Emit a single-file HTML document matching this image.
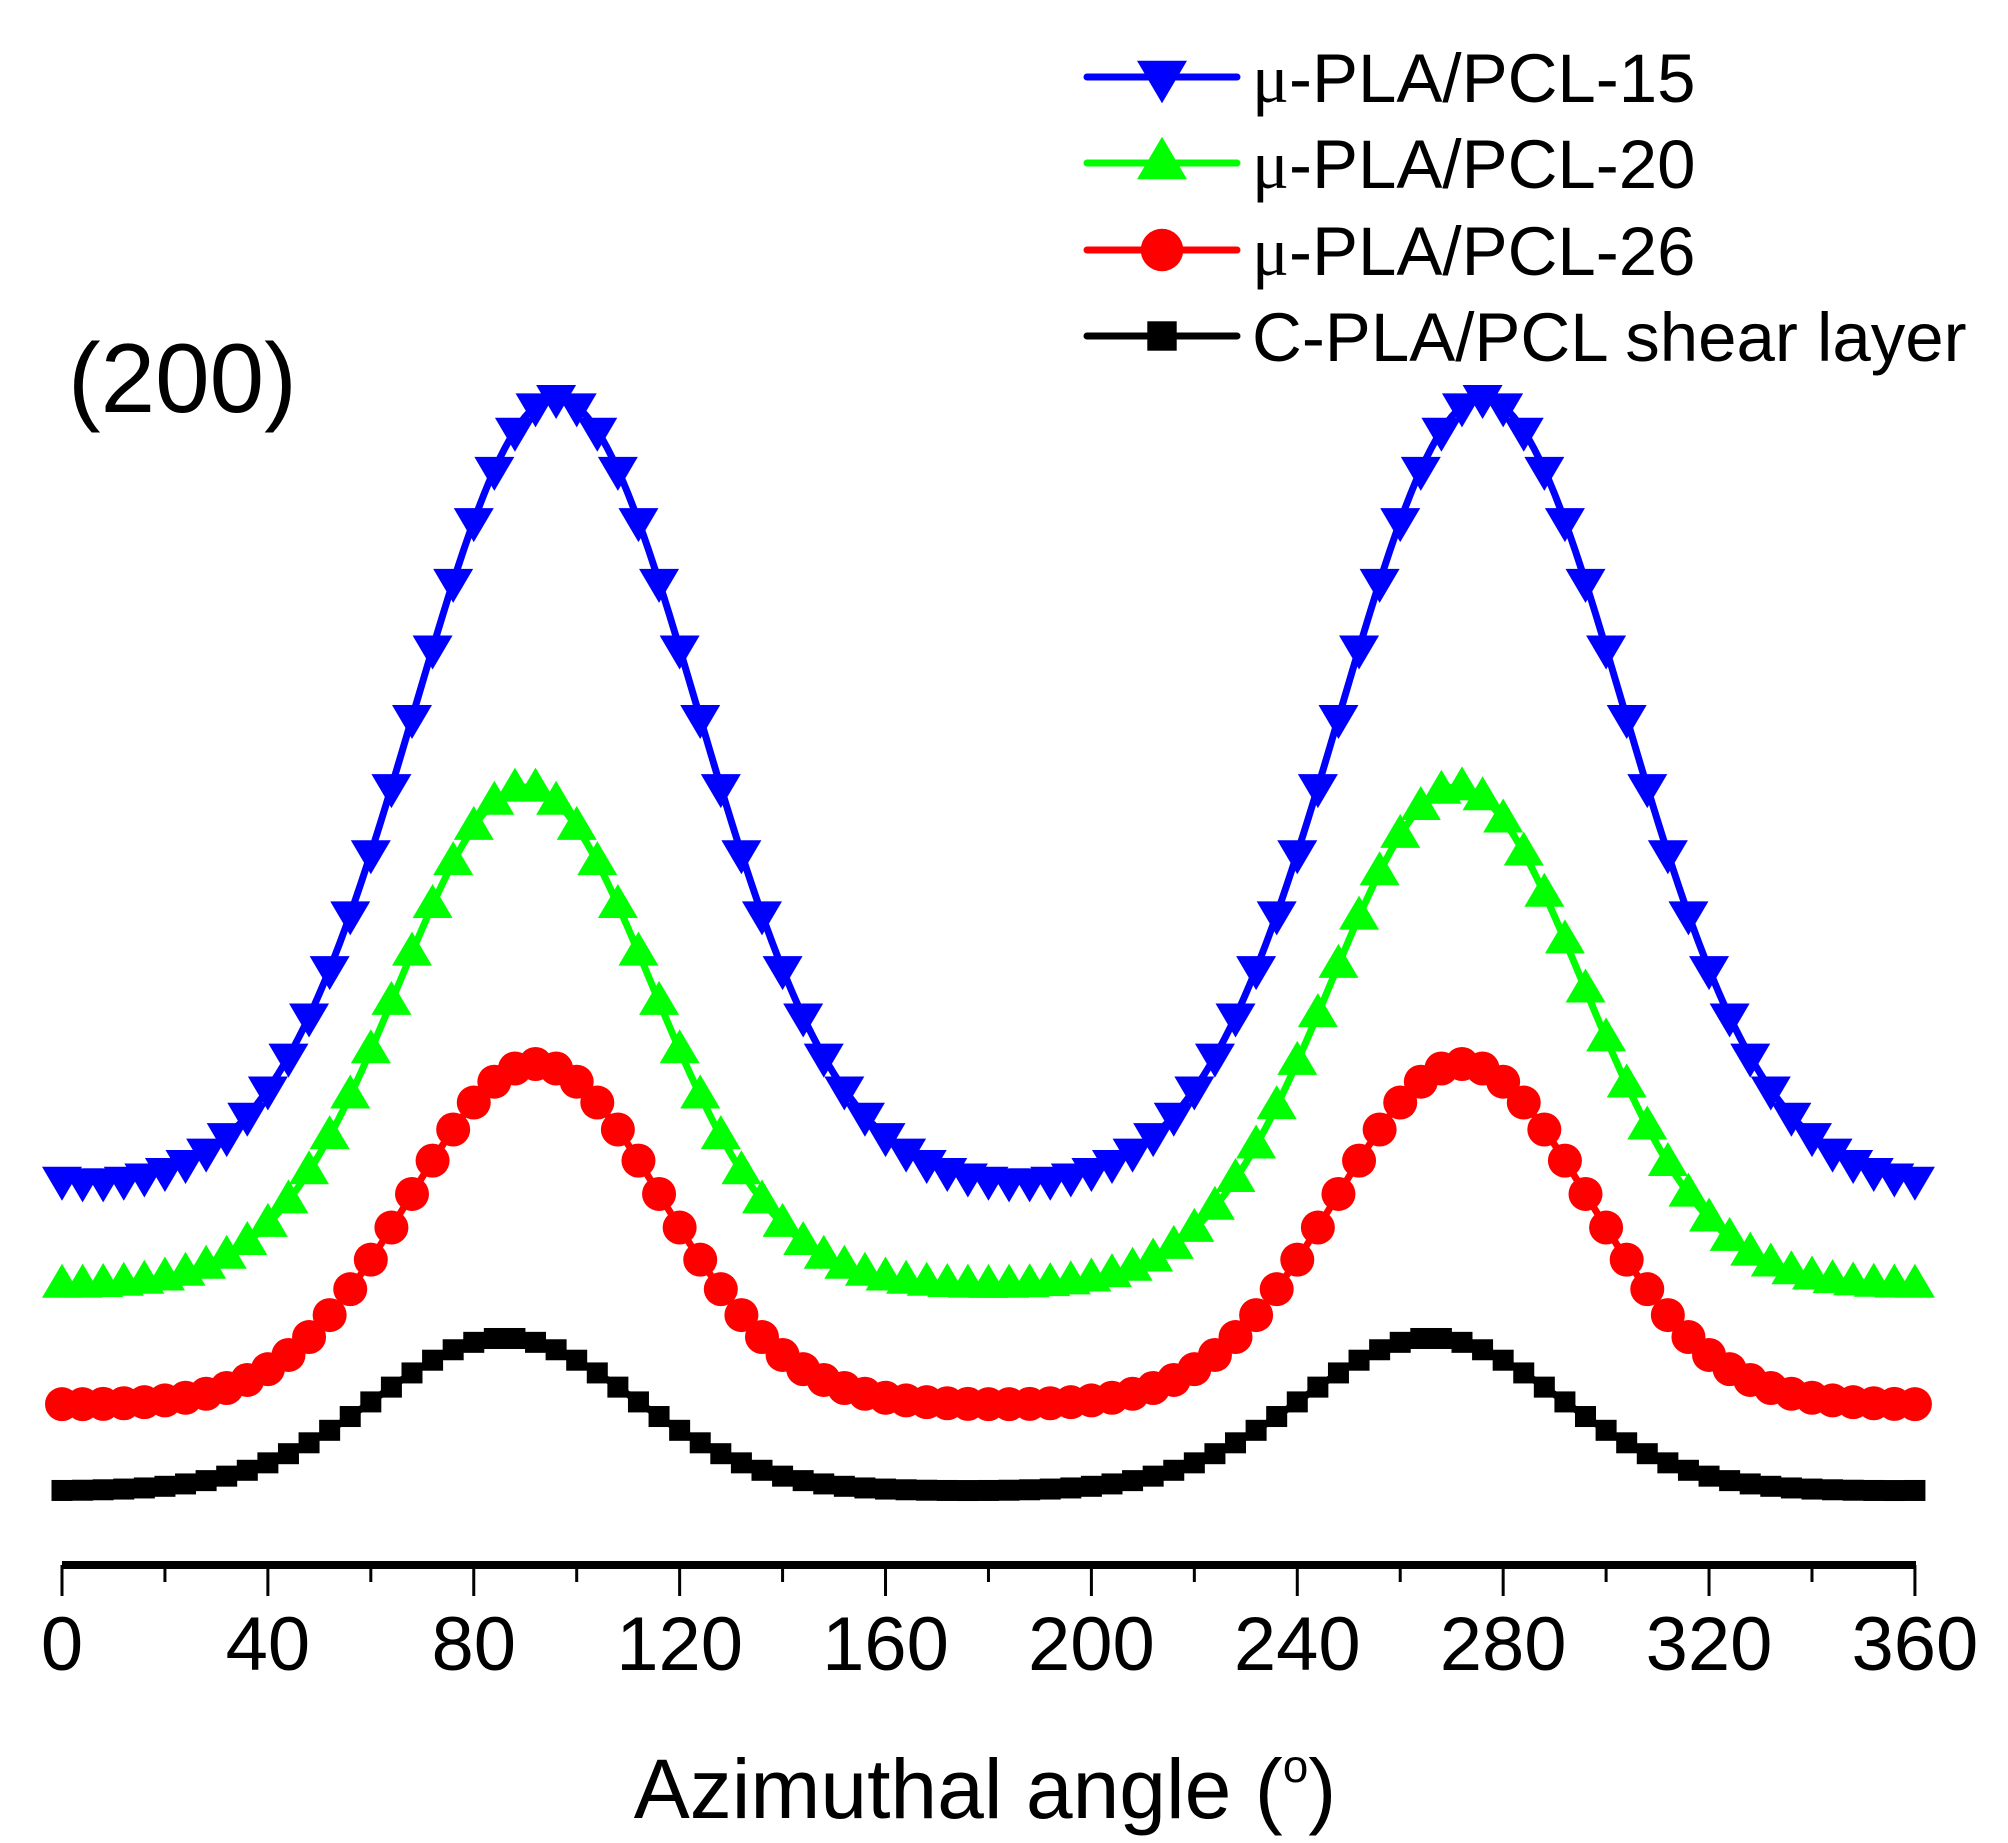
<!DOCTYPE html>
<html><head><meta charset="utf-8"><style>
body{margin:0;background:#fff}
svg{display:block}
text{font-family:"Liberation Sans",sans-serif}
</style></head><body>
<svg id="s" width="2008" height="1843" viewBox="0 0 2008 1843" xmlns="http://www.w3.org/2000/svg">
<g id="d"></g>
<line x1="62" y1="1565" x2="1916" y2="1565" stroke="#000" stroke-width="8"/>
<g id="t" stroke="#000" stroke-width="3"></g>
<g font-size="76" text-anchor="middle" id="tl"></g>
<text x="985" y="1818" font-size="84" text-anchor="middle">Azimuthal angle (<tspan font-size="46" dy="-36">o</tspan><tspan dy="36">)</tspan></text>
<text x="68" y="412" font-size="98">(200)</text>
<g id="lg"></g>
<g font-size="69">
<text x="1252" y="102"><tspan font-family="Liberation Serif">μ</tspan>-PLA/PCL-15</text>
<text x="1252" y="188"><tspan font-family="Liberation Serif">μ</tspan>-PLA/PCL-20</text>
<text x="1252" y="275"><tspan font-family="Liberation Serif">μ</tspan>-PLA/PCL-26</text>
<text x="1252" y="361">C-PLA/PCL shear layer</text>
</g>
</svg>
<script>
var NS="http://www.w3.org/2000/svg";
function el(t,a,p){var e=document.createElementNS(NS,t);for(var k in a)e.setAttribute(k,a[k]);p.appendChild(e);return e;}
var X=function(a){return 62+a*5.147;};
var t=document.getElementById('t'),tl=document.getElementById('tl');
for(var a=0;a<=360;a+=20){var maj=a%40==0;el('line',{x1:X(a),y1:1565,x2:X(a),y2:maj?1596:1582},t);
if(maj){var tx=el('text',{x:X(a),y:1670},tl);tx.textContent=a;}}
var series=[
 {c:'#0000ff',base:1189,A:791,p:[96,276],s:27.5,m:'dn'},
 {c:'#00ff00',base:1286,A:499,p:[90,271],s:24.5,m:'up'},
 {c:'#ff0000',base:1405,A:341,p:[92,272],s:24.5,m:'ci'},
 {c:'#000000',base:1491,A:153,p:[86,266],s:25,m:'sq'}];
var d=document.getElementById('d');
function marker(m,x,y,c,g){
 if(m=='dn')el('polygon',{points:(x-20)+','+(y-13)+' '+(x+20)+','+(y-13)+' '+x+','+(y+21),fill:c},g);
 else if(m=='up')el('polygon',{points:(x-20)+','+(y+13)+' '+(x+20)+','+(y+13)+' '+x+','+(y-21),fill:c},g);
 else if(m=='ci')el('circle',{cx:x,cy:y,r:17,fill:c},g);
 else el('rect',{x:x-10.5,y:y-10.5,width:21,height:21,fill:c},g);
}
series.forEach(function(S){
 function f(a){var v=0;S.p.forEach(function(p){for(var k=-1;k<=1;k++){var dd=a-p-360*k;v+=Math.exp(-dd*dd/(2*S.s*S.s));}});return S.base-S.A*v;}
 var pts=[];for(var a=0;a<=360;a+=1)pts.push(X(a)+','+f(a).toFixed(1));
 el('polyline',{points:pts.join(' '),fill:'none',stroke:S.c,'stroke-width':7},d);
 var g=el('g',{},d);
 for(var a=0;a<=360;a+=4)marker(S.m,X(a),f(a),S.c,g);
});
var lg=document.getElementById('lg');var ys=[77,163,250,336];
series.forEach(function(S,i){el('line',{x1:1087,y1:ys[i],x2:1237,y2:ys[i],stroke:S.c,'stroke-width':7,'stroke-linecap':'round'},lg);
var s=S.m=='sq'?1.4:1.25;var g=el('g',{transform:'translate(1162,'+ys[i]+') scale('+s+')'},lg);marker(S.m,0,0,S.c,g);});
</script>
</body></html>
